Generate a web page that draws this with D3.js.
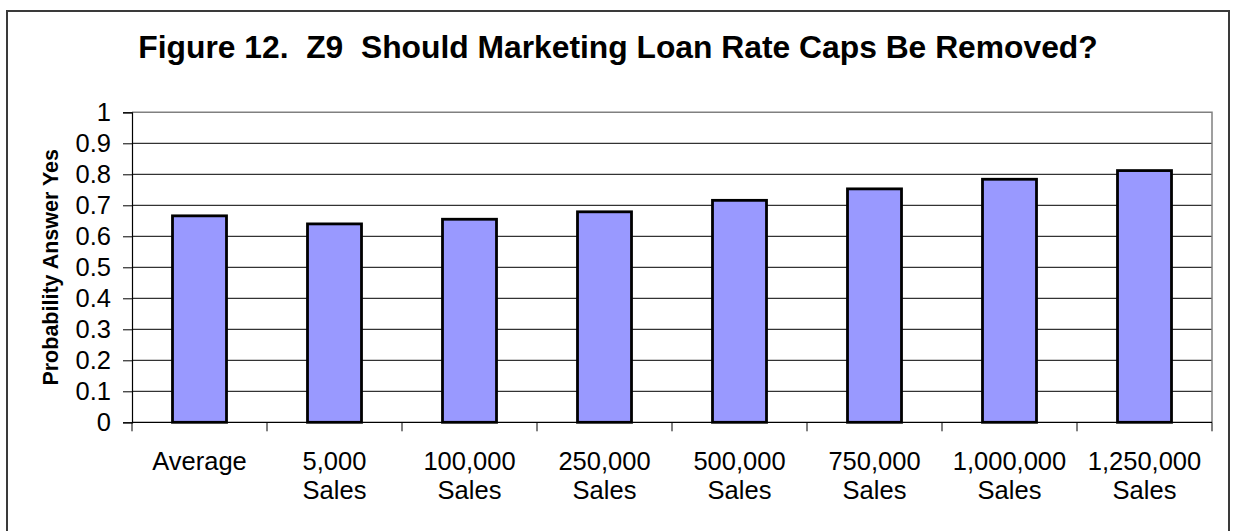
<!DOCTYPE html>
<html>
<head>
<meta charset="utf-8">
<script src="https://cdn.jsdelivr.net/npm/d3@7"></script>
<style>
  html, body { margin: 0; padding: 0; background: #fff; }
  svg { display: block; font-family: "Liberation Sans", Arial, sans-serif; }
  text { white-space: pre; }
</style>
</head>
<body>
<svg id="chart" width="1233" height="531"></svg>
<script>
// Categories (two-line axis labels) and probabilities
const categories = ["Average", "5,000 Sales", "100,000 Sales", "250,000 Sales",
                    "500,000 Sales", "750,000 Sales", "1,000,000 Sales", "1,250,000 Sales"];
const labelTop = ["Average", "5,000", "100,000", "250,000", "500,000", "750,000", "1,000,000", "1,250,000"];
const labelBottom = ["", "Sales", "Sales", "Sales", "Sales", "Sales", "Sales", "Sales"];
const probYes = [0.666, 0.640, 0.655, 0.679, 0.716, 0.753, 0.784, 0.812];
const yTicks = [0, 0.1, 0.2, 0.3, 0.4, 0.5, 0.6, 0.7, 0.8, 0.9, 1];

const titleText = "Figure 12.  Z9  Should Marketing Loan Rate Caps Be Removed?";
const yTitle = "Probability Answer Yes";

const svg = d3.select("#chart");
const plot = { left: 132, right: 1212, top: 112.3, bottom: 422.3 };

// outer chart frame (runs off the bottom edge)
svg.append("rect")
  .attr("x", 7).attr("y", 11)
  .attr("width", 1222).attr("height", 600)
  .attr("fill", "#fff").attr("stroke", "#3a3a3a").attr("stroke-width", 2);

const x = d3.scaleBand()
  .domain(categories)
  .range([plot.left, plot.right])
  .paddingInner(0.6)
  .paddingOuter(0.3);

const y = d3.scaleLinear().domain([0, 1]).range([plot.bottom, plot.top]);

// horizontal gridlines
svg.append("g")
  .selectAll("line")
  .data(yTicks.filter(t => t > 0 && t < 1))
  .join("line")
  .attr("x1", plot.left).attr("x2", plot.right)
  .attr("y1", d => y(d)).attr("y2", d => y(d))
  .attr("stroke", "#000").attr("stroke-width", 1);

// plot area border (top and right)
svg.append("path")
  .attr("d", `M${plot.left},${y(1)}H${plot.right}V${plot.bottom}`)
  .attr("fill", "none").attr("stroke", "#808080").attr("stroke-width", 1.5);

// bars
svg.append("g")
  .selectAll("rect")
  .data(probYes)
  .join("rect")
  .attr("x", (d, i) => x(categories[i]))
  .attr("y", d => y(d))
  .attr("width", x.bandwidth())
  .attr("height", d => y(0) - y(d))
  .attr("fill", "#9999ff")
  .attr("stroke", "#000")
  .attr("stroke-width", 2.8);

// y axis
const yAxis = d3.axisLeft(y)
  .tickValues(yTicks)
  .tickSize(9)
  .tickPadding(12)
  .tickFormat(d => d3.format("")(+d.toFixed(1)));
const gy = svg.append("g").attr("transform", `translate(${plot.left},0)`).call(yAxis);
gy.select(".domain").attr("stroke", "#000").attr("stroke-width", 1.2);
gy.selectAll(".tick line").attr("stroke", "#000");
gy.selectAll(".tick text")
  .attr("font-size", 25.5).attr("fill", "#000")
  .attr("font-family", "'Liberation Sans', Arial, sans-serif");

// x axis: baseline with ticks at category boundaries
const step = x.step();
const boundaries = d3.range(categories.length + 1).map(i => plot.left + i * step);
svg.append("line")
  .attr("x1", plot.left).attr("x2", plot.right)
  .attr("y1", plot.bottom).attr("y2", plot.bottom)
  .attr("stroke", "#000").attr("stroke-width", 1.2);
svg.append("g")
  .selectAll("line")
  .data(boundaries)
  .join("line")
  .attr("x1", d => d).attr("x2", d => d)
  .attr("y1", plot.bottom).attr("y2", plot.bottom + 9)
  .attr("stroke", "#000");

// category labels
const lab = svg.append("g")
  .attr("font-size", 25.5).attr("fill", "#000").attr("text-anchor", "middle");
lab.selectAll("text.l1")
  .data(labelTop)
  .join("text").attr("class", "l1")
  .attr("x", (d, i) => x(categories[i]) + x.bandwidth() / 2)
  .attr("y", 470)
  .text(d => d);
lab.selectAll("text.l2")
  .data(labelBottom)
  .join("text").attr("class", "l2")
  .attr("x", (d, i) => x(categories[i]) + x.bandwidth() / 2)
  .attr("y", 499)
  .text(d => d);

// y axis title
svg.append("text")
  .attr("transform", `translate(57.5,${(plot.top + plot.bottom) / 2}) rotate(-90)`)
  .attr("text-anchor", "middle")
  .attr("font-size", 21.5).attr("font-weight", "bold")
  .text(yTitle);

// chart title
svg.append("text")
  .attr("x", 618).attr("y", 58)
  .attr("text-anchor", "middle")
  .attr("font-size", 31.8).attr("font-weight", "bold")
  .text(titleText);
</script>
</body>
</html>
